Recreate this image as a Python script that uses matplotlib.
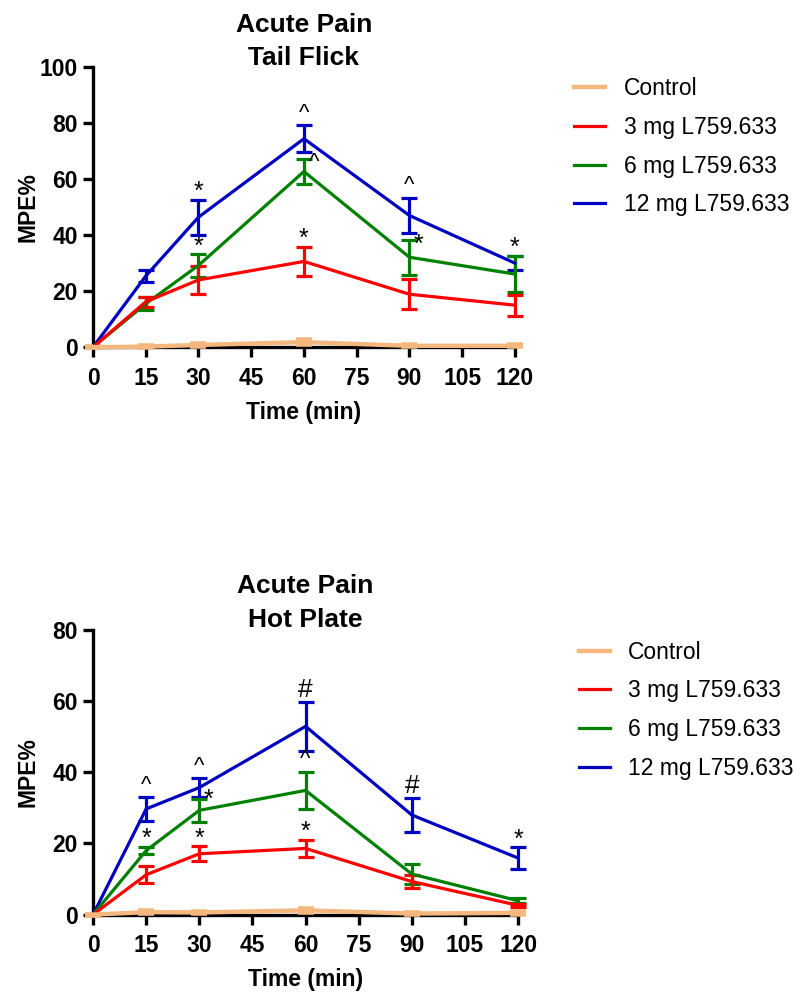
import matplotlib
matplotlib.use("Agg")
import matplotlib.pyplot as plt
import numpy as np

plt.rcParams['font.family'] = ['Liberation Sans', 'DejaVu Sans']

time = [0, 15, 30, 60, 90, 120]
labels = ["Control", "3 mg L759.633", "6 mg L759.633", "12 mg L759.633"]
colors = ["#F4B87E", "#FF0000", "#008000", "#0000C0"]

# Tail flick: mean MPE% and SEM
tf_mean = [
    [0, 0.2, 0.8, 1.8, 0.5, 0.5],
    [0, 16.2, 24.0, 30.6, 18.9, 15.0],
    [0, 15.5, 29.2, 62.7, 32.1, 26.1],
    [0, 25.4, 46.4, 74.4, 47.0, 30.0],
]
tf_err = [
    [0, 0.2, 0.3, 0.6, 0.2, 0.2],
    [0, 1.8, 5.0, 5.3, 5.3, 3.7],
    [0, 2.3, 4.0, 4.3, 6.2, 6.5],
    [0, 2.3, 6.3, 4.8, 6.4, 2.6],
]
# (series, time index, symbol, placed to the right?)
tf_marks = [
    (3, 2, "*", False), (2, 2, "*", False), (1, 3, "*", False),
    (3, 3, "^", False), (2, 3, "^", True), (3, 4, "^", False),
    (2, 4, "*", True), (3, 5, "*", False),
]

# Hot plate: mean MPE% and SEM
hp_mean = [
    [0, 0.7, 0.6, 1.2, 0.3, 0.5],
    [0, 11.2, 17.1, 18.6, 9.3, 2.6],
    [0, 18.0, 29.3, 34.9, 11.4, 3.9],
    [0, 29.7, 35.7, 52.9, 28.0, 15.9],
]
hp_err = [
    [0, 0.3, 0.2, 0.4, 0.1, 0.2],
    [0, 2.4, 2.1, 2.5, 1.9, 0.5],
    [0, 1.0, 3.2, 5.2, 2.7, 0.7],
    [0, 3.3, 2.7, 6.8, 4.7, 3.0],
]
hp_marks = [
    (3, 1, "^", False), (2, 1, "*", False), (3, 2, "^", False),
    (2, 2, "*", True), (1, 2, "*", False), (1, 3, "*", False),
    (2, 3, "^", False), (3, 3, "#", False), (3, 4, "#", False),
    (3, 5, "*", False),
]


def draw_panel(ax, means, errs, marks, title, ymax, legend_xy, ylab_x, title_y):
    handles = {}
    # blue underneath, control on top
    for k in [3, 2, 1, 0]:
        m = np.array(means[k])
        e = np.array(errs[k])
        lw = 3.2 if k == 0 else 2.3
        h = ax.errorbar(time, m, yerr=e, color=colors[k], lw=lw,
                        elinewidth=lw, capsize=5.5, capthick=lw if k else 4,
                        clip_on=False, zorder=3)
        handles[k] = h[0]
    for k, i, sym, right in marks:
        top = means[k][i] + errs[k][i]
        ymid = means[k][i]
        scale = ymax / 100.0
        if sym == "^":
            fs, dy = 16, 0.5 * scale
        elif sym == "#":
            fs, dy = 19, 0.0
        else:
            fs, dy = 18, -1.5 * scale
        if right:
            ax.text(time[i] + 1.3, ymid + errs[k][i] * 0.25 - 1.5 * scale, sym,
                    ha="left", va="bottom", fontsize=fs, zorder=5)
        else:
            ax.text(time[i], top + dy, sym, ha="center", va="bottom",
                    fontsize=fs, zorder=5)

    ax.set_xlim(0, 120)
    ax.set_ylim(0, ymax)
    ax.set_xticks(range(0, 121, 15))
    ax.set_yticks(range(0, ymax + 1, 20))
    for sp in ["top", "right"]:
        ax.spines[sp].set_visible(False)
    for sp in ["left", "bottom"]:
        ax.spines[sp].set_linewidth(2.4)
    ax.tick_params(width=2.4, length=7, labelsize=16.5, direction="out")
    ax.tick_params(axis="x", pad=7)
    ax.tick_params(axis="y", pad=4)
    for t in ax.get_xticklabels() + ax.get_yticklabels():
        t.set_fontweight("bold")
    ax.set_xlabel("Time (min)", fontsize=16.5, fontweight="bold", labelpad=8)
    ax.set_ylabel("MPE%", fontsize=16.5, fontweight="bold")
    ax.yaxis.set_label_coords(ylab_x, 0.5)
    ax.set_title(title, fontsize=19, fontweight="bold", pad=0, y=title_y,
                 linespacing=1.5)

    ax.legend([handles[k] for k in range(4)], labels, loc="upper left",
              bbox_to_anchor=legend_xy,
              bbox_transform=ax.figure.transFigure, frameon=False,
              fontsize=16.5, handlelength=1.35, handletextpad=0.8,
              labelspacing=0.68, borderaxespad=0, borderpad=0)


fig = plt.figure(figsize=(8.02, 9.92), dpi=100)
ax1 = fig.add_axes([0.116, 0.650, 0.526, 0.2825])
ax2 = fig.add_axes([0.116, 0.078, 0.530, 0.287])

draw_panel(ax1, tf_mean, tf_err, tf_marks, "Acute Pain\nTail Flick", 100,
           (0.716, 0.922), -0.127, 1.006)
draw_panel(ax2, hp_mean, hp_err, hp_marks, "Acute Pain\nHot Plate", 80,
           (0.722, 0.354), -0.126, 1.011)

fig.savefig("out.png", dpi=100)
